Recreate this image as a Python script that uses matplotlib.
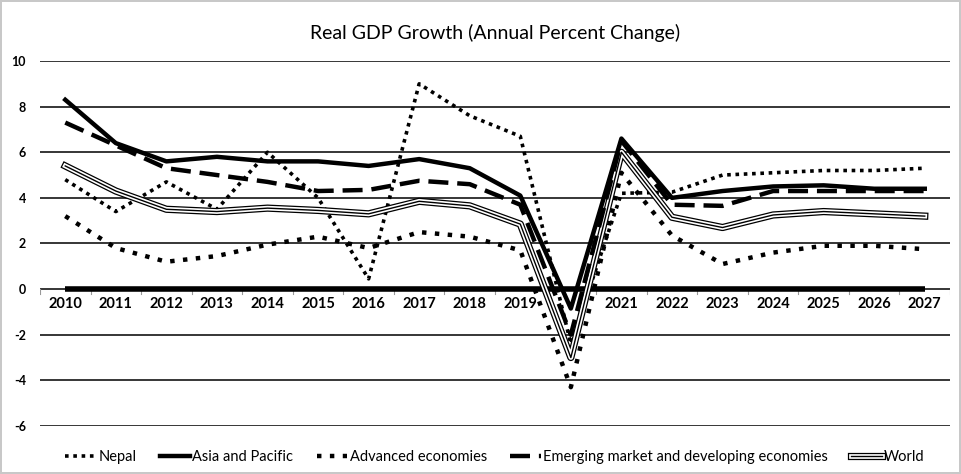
import numpy as np
import matplotlib
matplotlib.use("Agg")
import matplotlib.pyplot as plt
import matplotlib.patheffects as pe

years = list(range(2010, 2028))
# the 2020 label is hidden under the lines in the source chart
year_labels = [str(y) if y != 2020 else '' for y in years]
nepal = [4.8, 3.4, 4.7, 3.5, 6.0, 4.0, 0.45, 9.0, 7.6, 6.7, -2.4, 4.2, 4.25, 5.0, 5.1, 5.2, 5.2, 5.3]
asia_pacific = [8.3, 6.4, 5.6, 5.8, 5.6, 5.6, 5.4, 5.7, 5.3, 4.1, -0.85, 6.6, 4.0, 4.3, 4.5, 4.55, 4.4, 4.4]
advanced = [3.2, 1.8, 1.2, 1.45, 1.95, 2.3, 1.8, 2.5, 2.3, 1.7, -4.3, 5.1, 2.35, 1.1, 1.6, 1.9, 1.9, 1.75]
emerging = [7.3, 6.3, 5.3, 5.0, 4.7, 4.3, 4.35, 4.75, 4.6, 3.7, -2.0, 6.5, 3.7, 3.65, 4.3, 4.3, 4.3, 4.3]
world = [5.4, 4.3, 3.5, 3.4, 3.55, 3.45, 3.3, 3.85, 3.65, 2.85, -3.0, 6.0, 3.15, 2.7, 3.25, 3.4, 3.3, 3.2]
zero_line = [0.0] * len(years)

yticks = [-6, -4, -2, 0, 2, 4, 6, 8, 10]

plt.rcParams['font.family'] = ['Lato', 'DejaVu Sans']

fig = plt.figure(figsize=(9.61, 4.74), dpi=100)
fig.patch.set_edgecolor('#c8c8c8')
fig.patch.set_linewidth(1.5)
ax = fig.add_axes([0.0416, 0.1013, 0.947, 0.77])

x = np.arange(len(years))

for yv in yticks:
    ax.axhline(yv, color='black', lw=1.1, zorder=1)

ax.plot(x, zero_line, color='black', lw=4, solid_capstyle='butt', zorder=2)

ax.plot(x, nepal, color='black', lw=2.6, linestyle=(0, (1, 1.3)), label='Nepal', zorder=3)
ax.plot(x, asia_pacific, color='black', lw=3.2, label='Asia and Pacific', zorder=5)
ax.plot(x, advanced, color='black', lw=3.2, linestyle=(0, (1, 1.9)), label='Advanced economies', zorder=3)
ax.plot(x, emerging, color='black', lw=3.2, linestyle=(0, (4.5, 2)),
        label='Emerging market and developing economies', zorder=4)
ax.plot(x, world, color='black', lw=1.0, label='World', zorder=3,
        path_effects=[pe.Stroke(linewidth=5.2, foreground='black'),
                      pe.Stroke(linewidth=3.4, foreground='white'),
                      pe.Normal()])

ax.set_xlim(-0.5, len(years) - 0.5)
ax.set_ylim(-6, 10)
ax.set_yticks(yticks)
ax.set_yticklabels([str(v) for v in yticks], fontsize=9, fontweight='bold')
ax.tick_params(axis='y', length=0, pad=10)
ax.set_xticks([])

for s in ax.spines.values():
    s.set_visible(False)

for i, lab in enumerate(year_labels):
    ax.text(i, -0.35, lab, ha='center', va='top', fontsize=10.5, fontweight='bold', zorder=1)
for i in range(len(years) + 1):
    ax.plot([i - 0.5, i - 0.5], [0, -0.2], color='#999999', lw=0.8, zorder=1)

ax.set_title('Real GDP Growth (Annual Percent Change)', fontsize=14, pad=16)

ax.legend(loc='upper center', bbox_to_anchor=(0.5, -0.03), ncol=5, frameon=False,
          fontsize=10.5, handlelength=2.1, handletextpad=0.15, columnspacing=1.6)

fig.savefig('out.png', dpi=100)
